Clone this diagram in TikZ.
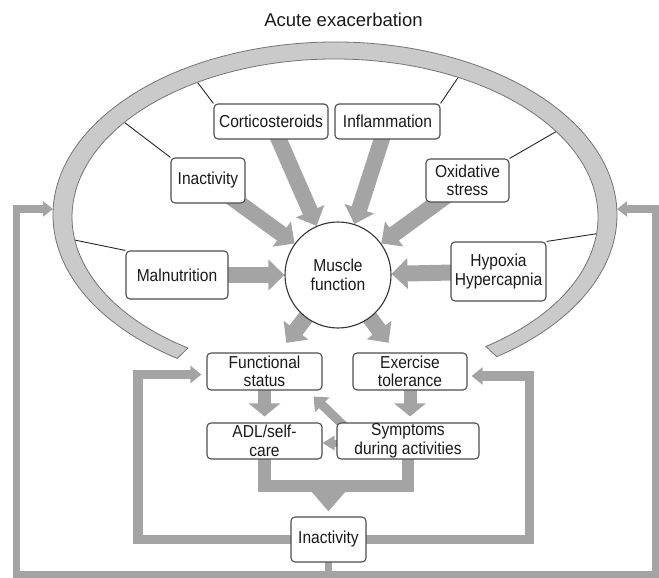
\documentclass[tikz,border=0pt]{standalone}
\usepackage{fontspec}
\setmainfont{Liberation Sans}
\newfontfamily\boxfont{Liberation Sans}[FakeStretch=0.9]
\usetikzlibrary{arrows.meta,calc}
\definecolor{arrowgray}{HTML}{A4A4A4}
\definecolor{boxline}{HTML}{4D4D4D}
\definecolor{ringfill}{HTML}{CACACA}
\definecolor{ringline}{HTML}{747474}
\definecolor{txt}{HTML}{1A1A1A}
\pgfdeclarelayer{bg}
\pgfsetlayers{bg,main}
\begin{document}
\begin{tikzpicture}[x=1pt,y=-1pt,
  box/.style={draw=boxline, line width=1.1pt, rounded corners=4pt, fill=white, inner sep=0pt,
    align=center, text=txt, font=\boxfont\fontsize{17.3}{18.5}\selectfont},
  hub/.style={circle, draw=black!80, line width=1.1pt, fill=white, inner sep=0pt,
    minimum size=106pt, align=center, text=txt, font=\boxfont\fontsize{17.3}{18.5}\selectfont},
  spoke/.style={draw=black!85, line width=0.9pt},
  ringstyle/.style={fill=ringfill, draw=ringline, line width=0.8pt},
  bigarrow/.style={draw=arrowgray, line width=16pt, -{Triangle[width=30pt,length=16pt]}},
  midarrow/.style={draw=arrowgray, line width=13pt, -{Triangle[width=31pt,length=13pt]}},
  mergearrow/.style={draw=arrowgray, line width=13pt, -{Triangle[width=33pt,length=20pt]}},
  loopline/.style={draw=arrowgray, line width=9.5pt, -{Triangle[width=17pt,length=11pt]}},
  outerline/.style={draw=arrowgray, line width=7.5pt, -{Triangle[width=15pt,length=10pt]}},
  smallarrow/.style={draw=arrowgray, line width=9pt, -{Triangle[width=20pt,length=12pt]}},
  tinyarrow/.style={draw=arrowgray, line width=7pt, -{Triangle[width=14pt,length=12pt]}},
  barline/.style={draw=arrowgray, line width=12.5pt}
]
\useasboundingbox (0,0) rectangle (659,578);

% title
\node[text=txt, font=\fontsize{18.5}{21}\selectfont] (title) at (343.5,20) {Acute exacerbation};

% boxes
\node[box, minimum width=114pt, minimum height=35pt] (cort) at (271,121.5) {Corticosteroids};
\node[box, minimum width=105pt, minimum height=35pt] (infl) at (387.5,121.5) {Inflammation};
\node[box, minimum width=74pt, minimum height=45pt] (inac1) at (208,180.5) {Inactivity};
\node[box, minimum width=83pt, minimum height=43pt] (oxid) at (467.5,180.5) {Oxidative\\stress};
\node[box, minimum width=102pt, minimum height=48pt] (maln) at (177,275) {Malnutrition};
\node[box, minimum width=95pt, minimum height=59pt] (hyp) at (498.5,271.5) {Hypoxia\\Hypercapnia};
\node[hub] (mf) at (338,275) {Muscle\\function};
\node[box, minimum width=115pt, minimum height=37pt] (fs) at (264.5,371.5) {Functional\\status};
\node[box, minimum width=114pt, minimum height=37pt] (et) at (410,371.5) {Exercise\\tolerance};
\node[box, minimum width=115pt, minimum height=36pt] (adl) at (264.5,441) {ADL/self-\\care};
\node[box, minimum width=142pt, minimum height=36pt] (sym) at (408,441) {Symptoms\\during activities};
\node[box, minimum width=75pt, minimum height=45pt] (inac2) at (328.5,539.5) {Inactivity};

% helper coordinates
\coordinate (sp1) at ($(335,217)+(238.4:266 and 161)$);
\coordinate (sp2) at ($(335,217)+(298:266 and 161)$);
\coordinate (sp3) at ($(335,217)+(216.8:266 and 161)$);
\coordinate (sp4) at ($(335,217)+(327.3:266 and 161)$);
\coordinate (sp5) at ($(335,217)+(172:266 and 161)$);
\coordinate (sp6) at ($(335,217)+(5.8:266 and 161)$);
\coordinate (lloop) at (138,450);
\coordinate (rloop) at (529.5,450);
\coordinate (obl) at (16.5,574.5);
\coordinate (obr) at (655.5,574.5);
\coordinate (ringL) at (53,209);
\coordinate (ringR) at (617,209);
\coordinate (barlevel) at (0,486);

\begin{pgfonlayer}{bg}
  % spokes
  \draw[spoke] (sp1) -- (cort.north west);
  \draw[spoke] (sp2) -- (infl.north east);
  \draw[spoke] (sp3) -- (inac1.north west);
  \draw[spoke] (sp4) -- (oxid.north east);
  \draw[spoke] (sp5) -- (maln.north west);
  \draw[spoke] (sp6) -- (hyp.north east);
  % ring
  \filldraw[ringstyle] ($(335,215)+(124:282 and 173)$)
    arc[start angle=124, end angle=415, x radius=282, y radius=173]
    -- ($(335,217)+(55:263 and 158)$)
    arc[start angle=55, end angle=-236, x radius=263, y radius=158] -- cycle;
  % arrows into muscle function
  \draw[bigarrow] (cort.center) -- (mf);
  \draw[bigarrow] (infl.center) -- (mf);
  \draw[bigarrow] (inac1.center) -- (mf);
  \draw[bigarrow] (oxid.center) -- (mf);
  \draw[bigarrow] (maln.center) -- (mf);
  \draw[bigarrow] (hyp.center) -- (mf);
  % arrows out of muscle function
  \draw[bigarrow, shorten >=12pt] (mf.center) -- (fs);
  \draw[bigarrow, shorten >=12pt] (mf.center) -- (et);
  % lower arrows
  \draw[midarrow, shorten >=6pt] (fs.center) -- (adl);
  \draw[midarrow, shorten >=6pt] (et.center) -- (et.center |- sym.north);
  \draw[smallarrow] ([xshift=8pt,yshift=-4pt]sym.north west) -- ([xshift=-9pt,yshift=-6pt]fs.south east);
  \draw[tinyarrow] ([yshift=-2pt]sym.center) -- ([yshift=-2pt]sym.center -| adl.east);
  % merge into inactivity
  \draw[barline] (adl.center) |- (sym.center |- barlevel) -- (sym.center);
  \draw[mergearrow, shorten >=5pt] (inac2.north |- barlevel) -- (inac2.north);
  % inner loops
  \draw[loopline, shorten >=5pt] (inac2.center) -| (lloop) |- ([yshift=-3pt]fs.west);
  \draw[loopline, shorten >=4pt] (inac2.center) -| (rloop) |- ([yshift=-4.5pt]et.east);
  % outer loops
  \draw[outerline] (inac2.center) |- (obl) |- (ringL);
  \draw[outerline] (inac2.center) |- (obr) |- (ringR);
\end{pgfonlayer}
\end{tikzpicture}
\end{document}
